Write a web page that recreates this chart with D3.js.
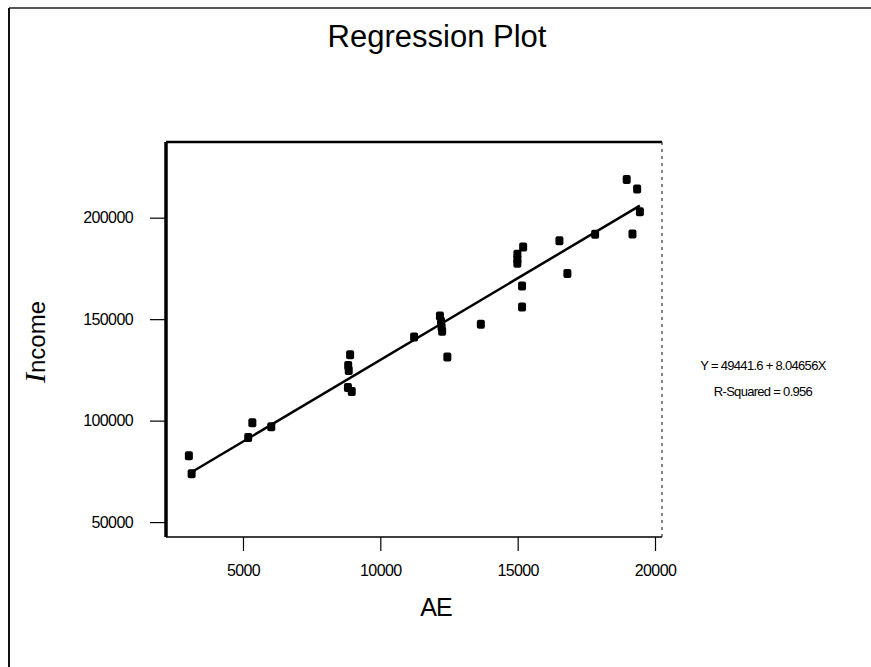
<!DOCTYPE html>
<html>
<head>
<meta charset="utf-8">
<script src="https://cdn.jsdelivr.net/npm/d3@7"></script>
<style>
  body { margin: 0; background: #fff; }
  svg { display: block; }
</style>
</head>
<body>
<script>
// chart size
var width = 871;
var height = 667;

// AE (x) and Income (y)
var aeValues = [3030, 3130, 5190, 5340, 6030, 8900, 8830, 8850, 8820, 8960,
                11230, 12170, 12210, 12230, 12250, 12440, 13660, 14990, 14990, 14990,
                15200, 15160, 15160, 16520, 16810, 17820, 18970, 19350, 19450, 19180];
var incomeValues = [82700, 73800, 91700, 99000, 97000, 132400, 127200, 124700, 116300, 114300,
                    141200, 151500, 149000, 146100, 144100, 131300, 147500, 182000, 179500, 177500,
                    185500, 166300, 156000, 188600, 172500, 191900, 218800, 214200, 202900, 192000];

var xTicks = [5000, 10000, 15000, 20000];
var yTicks = [50000, 100000, 150000, 200000];

// fitted line
var intercept = 49441.6;
var slope = 8.04656;
var rSquared = 0.956;

var narrow = "'Liberation Sans Narrow', 'Arial Narrow', 'Liberation Sans', Arial, sans-serif";
var sans = "'Liberation Sans', Arial, sans-serif";

var plot = { left: 166, top: 142, right: 662, bottom: 537 };

var x = d3.scaleLinear()
          .domain([2197, 20255])
          .range([plot.left, plot.right]);

var y = d3.scaleLinear()
          .domain([42650, 237300])
          .range([plot.bottom, plot.top]);

var svg = d3.select('body')
            .append('svg')
            .attr('width', width)
            .attr('height', height);

// outer page frame (scan edges)
svg.append('line')
   .attr('x1', 9).attr('y1', 8).attr('x2', width).attr('y2', 8)
   .attr('stroke', '#222').attr('stroke-width', 1.5);
svg.append('line')
   .attr('x1', 9).attr('y1', 8).attr('x2', 9).attr('y2', height)
   .attr('stroke', '#111').attr('stroke-width', 2);

// title
svg.append('text')
   .attr('x', 437)
   .attr('y', 47)
   .attr('text-anchor', 'middle')
   .style('font-family', sans)
   .style('font-size', '31px')
   .text('Regression Plot');

// axes
var xAxis = d3.axisBottom(x).tickValues(xTicks).tickSize(14).tickSizeOuter(0)
              .tickFormat(d3.format('d'));
var yAxis = d3.axisLeft(y).tickValues(yTicks).tickSize(16).tickSizeOuter(0)
              .tickFormat(d3.format('d'));

var gx = svg.append('g')
            .attr('transform', 'translate(0,' + plot.bottom + ')')
            .call(xAxis);
gx.select('.domain').remove();
gx.selectAll('line').attr('stroke', '#000').attr('stroke-width', 1.2);
gx.selectAll('text')
  .attr('y', 28)
  .style('font-family', narrow)
  .style('font-size', '16px')
  .style('letter-spacing', '-0.6px')
  .attr('fill', '#000');

var gy = svg.append('g')
            .attr('transform', 'translate(' + plot.left + ',0)')
            .call(yAxis);
gy.select('.domain').remove();
gy.selectAll('line').attr('stroke', '#000').attr('stroke-width', 1.2);
gy.selectAll('text')
  .attr('x', -33)
  .style('font-family', narrow)
  .style('font-size', '16px')
  .style('letter-spacing', '-0.6px')
  .attr('fill', '#000');

// plot frame
svg.append('line')
   .attr('x1', plot.left).attr('y1', plot.top).attr('x2', plot.right).attr('y2', plot.top)
   .attr('stroke', '#000').attr('stroke-width', 2.5);
svg.append('line')
   .attr('x1', plot.left).attr('y1', plot.bottom).attr('x2', plot.right).attr('y2', plot.bottom)
   .attr('stroke', '#000').attr('stroke-width', 1.5);
svg.append('line')
   .attr('x1', plot.left).attr('y1', plot.top).attr('x2', plot.left).attr('y2', plot.bottom)
   .attr('stroke', '#000').attr('stroke-width', 3.5);
svg.append('line')
   .attr('x1', plot.right).attr('y1', plot.top).attr('x2', plot.right).attr('y2', plot.bottom)
   .attr('stroke', '#333').attr('stroke-width', 1.2)
   .attr('stroke-dasharray', '3,4');

// regression line over the data range
var xr = d3.extent(aeValues);
svg.append('line')
   .attr('x1', x(xr[0])).attr('y1', y(intercept + slope * xr[0]))
   .attr('x2', x(xr[1])).attr('y2', y(intercept + slope * xr[1]))
   .attr('stroke', '#000')
   .attr('stroke-width', 2.5);

// points
svg.selectAll('rect.pt')
   .data(d3.range(aeValues.length))
   .enter()
   .append('rect')
   .attr('class', 'pt')
   .attr('x', function(i){ return x(aeValues[i]) - 4; })
   .attr('y', function(i){ return y(incomeValues[i]) - 4.5; })
   .attr('width', 8)
   .attr('height', 9)
   .attr('rx', 2)
   .attr('fill', '#000');

// axis titles
svg.append('text')
   .attr('x', 436)
   .attr('y', 616)
   .attr('text-anchor', 'middle')
   .style('font-family', sans)
   .style('font-size', '25px')
   .style('letter-spacing', '-1px')
   .text('AE');

var ylab = svg.append('text')
              .attr('transform', 'translate(45,342) rotate(-90)')
              .attr('text-anchor', 'middle');
ylab.append('tspan')
    .style('font-family', "'Liberation Serif', 'Times New Roman', serif")
    .style('font-style', 'italic')
    .style('font-size', '30px')
    .text('I');
ylab.append('tspan')
    .style('font-family', sans)
    .style('font-size', '24px')
    .text('ncome');

// equation text
svg.append('text')
   .attr('x', 763)
   .attr('y', 370)
   .attr('text-anchor', 'middle')
   .style('font-family', narrow)
   .style('font-size', '13px')
   .style('letter-spacing', '-0.7px')
   .text('Y = ' + intercept + ' + ' + slope + 'X');

svg.append('text')
   .attr('x', 763)
   .attr('y', 396)
   .attr('text-anchor', 'middle')
   .style('font-family', narrow)
   .style('font-size', '13px')
   .style('letter-spacing', '-0.7px')
   .text('R-Squared = ' + rSquared);
</script>
</body>
</html>
